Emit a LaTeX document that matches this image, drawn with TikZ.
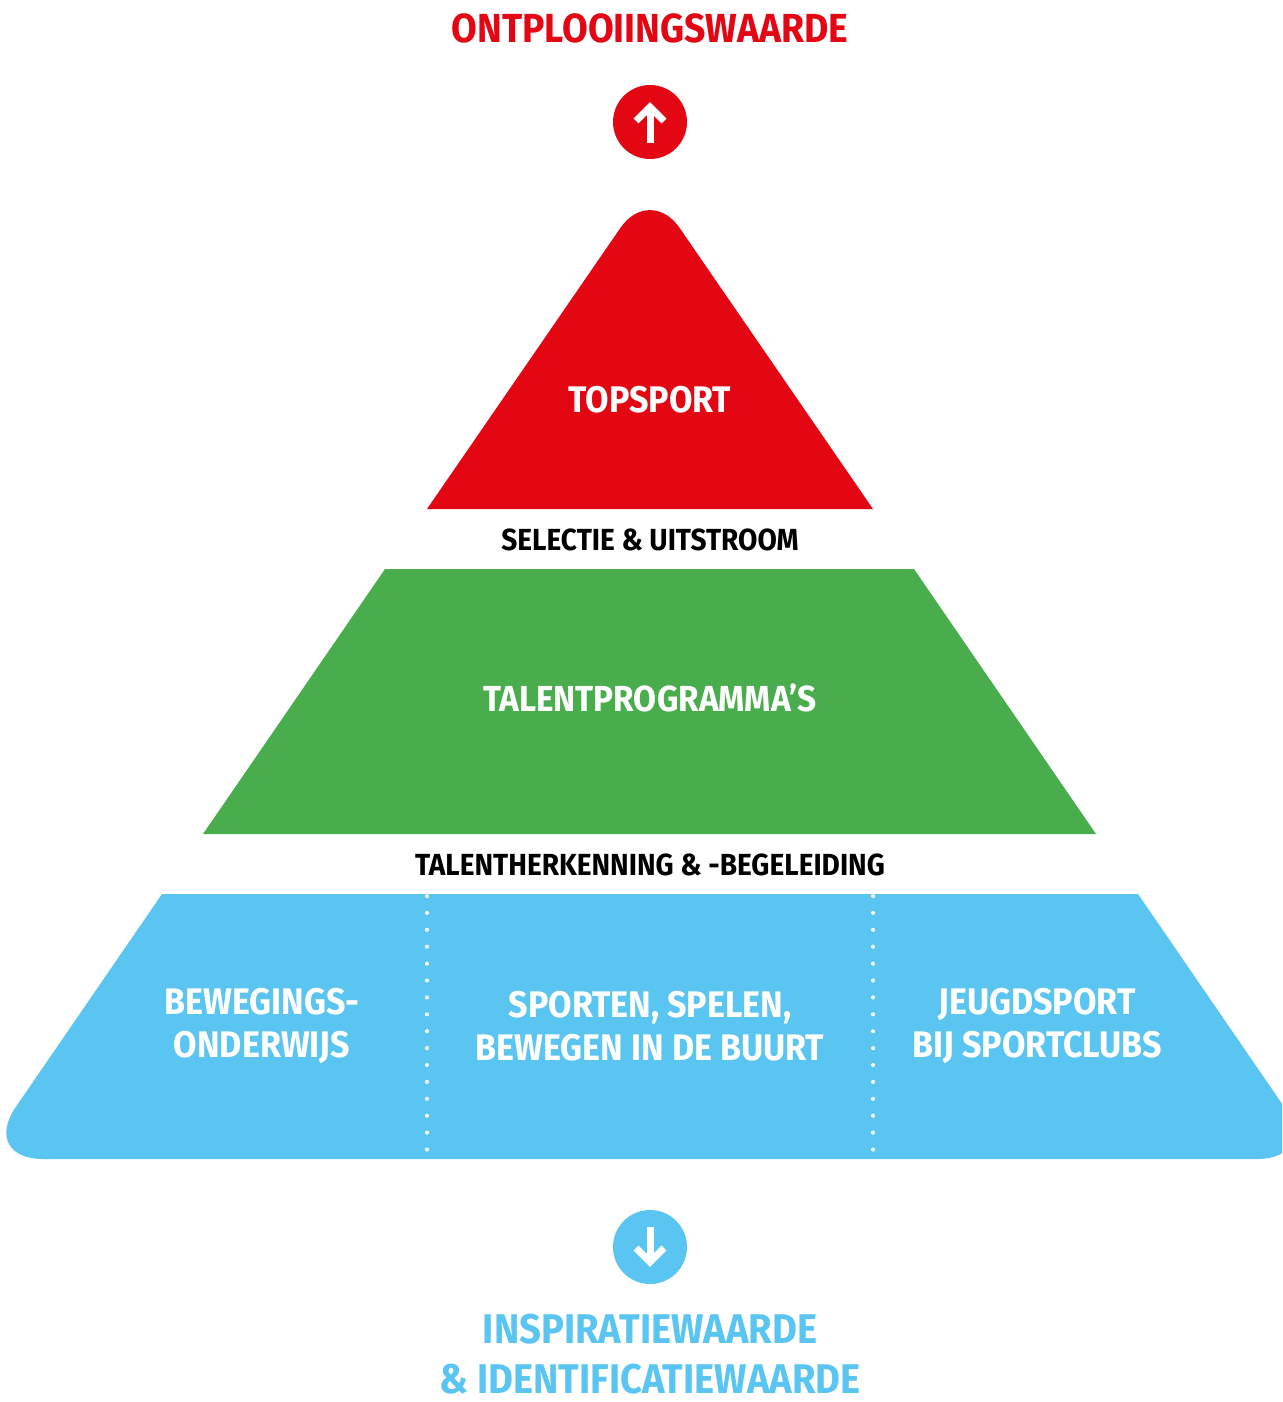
\documentclass[tikz,border=0pt]{standalone}
\usepackage{fontspec}
\setmainfont{Fira Sans}[FakeStretch=0.92]

\definecolor{topred}{HTML}{E30613}
\definecolor{talgreen}{HTML}{4AAD4D}
\definecolor{basblue}{HTML}{5BC5F2}

\begin{document}
\begin{tikzpicture}[x=1pt,y=-1pt,
        txt/.style={inner sep=0pt,font=\bfseries},
        arr/.style={white,line width=7pt}]
        \useasboundingbox (0,0) rectangle (1282,1402);
        \clip (0,0) rectangle (1282,1402);

        % top
        \node[txt,topred,anchor=base,font=\fontsize{40.6}{48}\bfseries] (ontpl) at (650,43) {ONTPLOOIINGSWAARDE};
        \fill[topred] (650,122) circle(37);
        \draw[arr] (636,121) -- (650,107) -- (664,121);
        \draw[arr] (650,110) -- (650,143);

        % pyramid
        \fill[topred] (427,509) -- (620.5,227.8) .. controls (636.8,204.2) and (663.2,204.2) .. (679.5,227.8) -- (873,509) -- cycle;
        \node[txt,white,anchor=base,font=\fontsize{37}{44}\bfseries] (top) at (650,412) {TOPSPORT};
        \node[txt,anchor=base,font=\fontsize{30.5}{36}\bfseries] (sel) at (650,550) {SELECTIE \& UITSTROOM};

        \fill[talgreen] (385,569) -- (914,569) -- (1096,834) -- (203,834) -- cycle;
        \node[txt,white,anchor=base,font=\fontsize{36.2}{44}\bfseries] (tal) at (650,711) {TALENTPROGRAMMA’S};
        \node[txt,anchor=base,font=\fontsize{30.5}{36}\bfseries] (herk) at (650,875) {TALENTHERKENNING \& -BEGELEIDING};

        \fill[basblue] (162,894) -- (1138,894) -- (1284.3,1107.1) .. controls (1304,1135.8) and (1291.8,1159) .. (1257,1159)
            -- (43,1159) .. controls (8.2,1159) and (-4,1135.8) .. (15.7,1107.1) -- cycle;
        \draw[white,line width=4pt,line cap=round,dash pattern=on 0pt off 16.9pt] (427,896) -- (427,1159);
        \draw[white,line width=4pt,line cap=round,dash pattern=on 0pt off 16.9pt] (873,896) -- (873,1159);
        \node[txt,white,align=center,font=\fontsize{37}{43}\bfseries] (bew) at (262,1026) {BEWEGINGS-\\ONDERWIJS};
        \node[txt,white,align=center,font=\fontsize{37}{43}\bfseries] (buurt) at (650,1026) {SPORTEN, SPELEN,\\BEWEGEN IN DE BUURT};
        \node[txt,white,align=center,font=\fontsize{37}{43}\bfseries] (jeugd) at (1037,1026) {JEUGDSPORT\\BIJ SPORTCLUBS};

        % bottom
        \fill[basblue] (650,1247) circle(37);
        \draw[arr] (636,1248) -- (650,1262) -- (664,1248);
        \draw[arr] (650,1227) -- (650,1259);
        \node[txt,basblue,align=center,font=\fontsize{41.5}{50}\bfseries] (insp) at (650,1354.5) {INSPIRATIEWAARDE\\\& IDENTIFICATIEWAARDE};
    \end{tikzpicture}
\end{document}
